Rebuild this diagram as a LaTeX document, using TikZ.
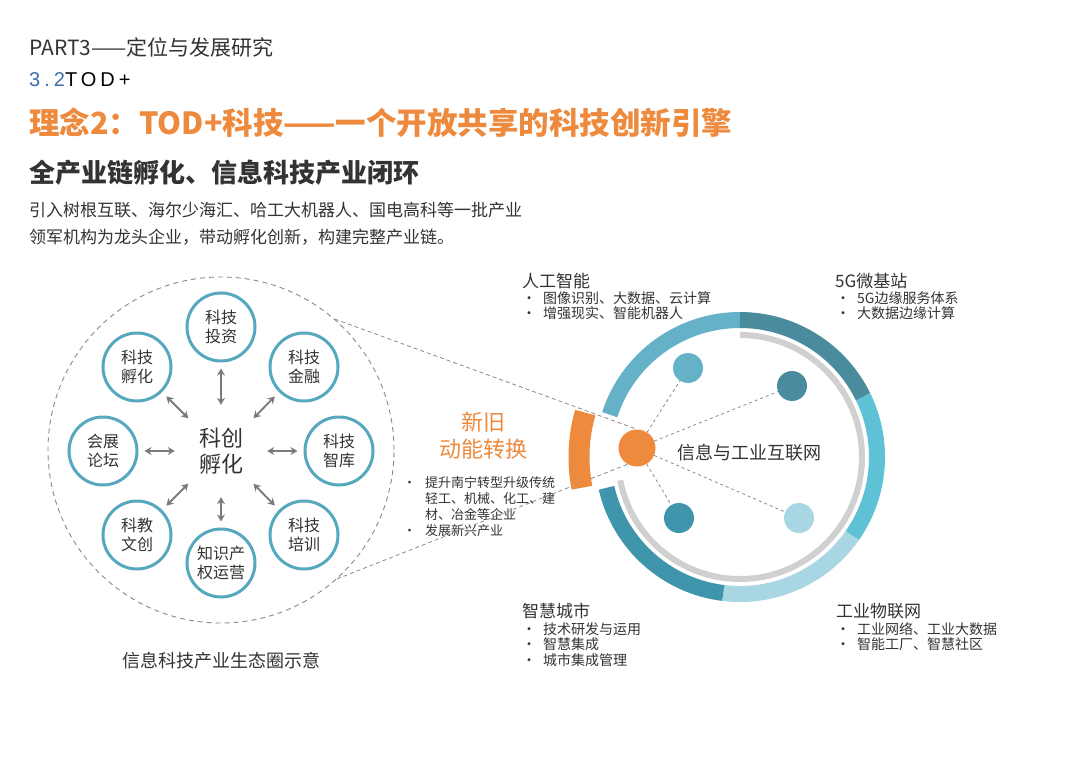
\documentclass[tikz,border=0pt]{standalone}
\usepackage{fontspec}
\setmainfont{Noto Sans CJK SC}
\newfontfamily\secfont[LetterSpace=20]{Liberation Sans}
\usetikzlibrary{arrows.meta,positioning}

\definecolor{darktext}{HTML}{333333}
\definecolor{secblue}{HTML}{3D6FA8}
\definecolor{titleorange}{HTML}{EE8A3D}
\definecolor{ringteal}{HTML}{56A8BE}
\definecolor{arrowgray}{HTML}{7A7A7A}
\definecolor{dashgray}{HTML}{8A8A8A}
\definecolor{segA}{HTML}{65B2C8}
\definecolor{segB}{HTML}{4A8C9E}
\definecolor{segC}{HTML}{5EC1D6}
\definecolor{segD}{HTML}{A8D6E2}
\definecolor{segE}{HTML}{3F95AC}
\definecolor{ringgray}{HTML}{D0D0D0}

\newcommand{\bitem}[2][21pt]{\makebox[#1][l]{•}#2}
\newcommand{\bcont}[2][21pt]{\hspace*{#1}#2}

\begin{document}
\begin{tikzpicture}[x=1pt, y=1pt,
  satellite/.style={circle, draw=ringteal, line width=3pt, fill=white, minimum size=68pt, inner sep=0pt, align=center, text=darktext, font=\fontsize{16}{19}\selectfont},
  hub/.style={circle, minimum size=84pt, inner sep=0pt, align=center, text=darktext, font=\fontsize{22}{26}\selectfont},
  biarrow/.style={{Stealth[length=7pt,width=8pt]}-{Stealth[length=7pt,width=8pt]}, draw=arrowgray, line width=1.8pt, shorten <=4pt, shorten >=6pt},
  spoke/.style={draw=dashgray, dash pattern=on 4pt off 3pt, line width=0.8pt},
  dot/.style={circle, minimum size=30pt, inner sep=0pt},
  seg/.style={line width=16pt},
  heading/.style={anchor=west, inner sep=0pt, text=darktext, font=\fontsize{17}{20}\selectfont},
  blist/.style={anchor=west, inner sep=0pt, align=left, text=darktext, font=\fontsize{14}{15.5}\selectfont}]
\fill[white] (0,0) rectangle (1080,-768);
\useasboundingbox (0,0) rectangle (1080,-768);

% header
\node[anchor=west, inner sep=0pt, text=darktext, font=\fontsize{21}{24}\selectfont] (part) at (29,-47) {PART3——定位与发展研究};
\node[anchor=west, inner sep=0pt, font=\fontsize{20}{24}\selectfont] (sec) at (29,-80) {\secfont\textcolor{secblue}{3.2}TOD+};
\node[anchor=west, inner sep=0pt, text=titleorange, font=\bfseries\fontsize{30.5}{34}\selectfont] (title) at (29,-123) {理念2：TOD+科技——一个开放共享的科技创新引擎};
\node[anchor=west, inner sep=0pt, text=darktext, font=\bfseries\fontsize{26}{30}\selectfont] (sub) at (29,-173) {全产业链孵化、信息科技产业闭环};
\node[anchor=west, inner sep=0pt, align=left, text=darktext, font=\fontsize{17}{27}\selectfont] (intro) at (29,-223.5) {引入树根互联、海尔少海汇、哈工大机器人、国电高科等一批产业\\领军机构为龙头企业，带动孵化创新，构建完整产业链。};

% ecosystem circle
\node[circle, draw=dashgray, dash pattern=on 5pt off 4pt, line width=0.9pt, minimum size=346pt] (eco) at (221,-450) {};
\node[hub] (hub) at (221,-451) {科创\\孵化};
\node[satellite] (tz) at (221,-327) {科技\\投资};
\node[satellite] (fh) at (137,-367) {科技\\孵化};
\node[satellite] (jr) at (304,-367) {科技\\金融};
\node[satellite] (lt) at (103,-451) {会展\\论坛};
\node[satellite] (zk) at (339,-451) {科技\\智库};
\node[satellite] (wc) at (137,-535) {科教\\文创};
\node[satellite] (zs) at (221,-563) {知识产\\权运营};
\node[satellite] (px) at (304,-535) {科技\\培训};
\foreach \s in {tz,fh,jr,lt,zk,wc,zs,px}
  \draw[biarrow] (hub) -- (\s);
\node[text=darktext, font=\fontsize{18}{20}\selectfont] (cap) at (221,-661) {信息科技产业生态圈示意};

% conversion
\node[align=center, inner sep=0pt, text=titleorange, font=\fontsize{22}{27}\selectfont] (conv) at (483,-436) {新旧\\动能转换};
\node[blist, font=\fontsize{13}{16}\selectfont] (convlist) at (403,-507) {\bitem[22pt]{提升南宁转型升级传统}\\\bcont[22pt]{轻工、机械、化工、建}\\\bcont[22pt]{材、冶金等企业}\\\bitem[22pt]{发展新兴产业}};

% network ring
\coordinate (rc) at (740,-457);
\node[dot, fill=titleorange, minimum size=37pt] (core) at (637,-448) {};
\node[dot, fill=segA] (d1) at (688,-368) {};
\node[dot, fill=segB] (d2) at (792,-386) {};
\node[dot, fill=segE] (d3) at (679,-518) {};
\node[dot, fill=segD] (d4) at (799,-518) {};
\foreach \d in {d1,d2,d3,d4}
  \draw[spoke, dash pattern=on 3pt off 3pt] (core) -- (\d);
\draw[spoke] (eco.49) -- (core.north);
\draw[spoke] (eco.-48) -- (core.240);
\draw[seg, segA] ([shift={(90:137pt)}]rc) arc[start angle=90, end angle=162, radius=137pt];
\draw[seg, segB] ([shift={(90:137pt)}]rc) arc[start angle=90, end angle=26, radius=137pt];
\draw[seg, segC] ([shift={(26:137pt)}]rc) arc[start angle=26, end angle=-35, radius=137pt];
\draw[seg, segD] ([shift={(-35:137pt)}]rc) arc[start angle=-35, end angle=-97, radius=137pt];
\draw[seg, segE] ([shift={(-97:137pt)}]rc) arc[start angle=-97, end angle=-167, radius=137pt];
\draw[line width=6pt, ringgray] ([shift={(90:122pt)}]rc) arc[start angle=90, end angle=-169, radius=122pt];
\draw[line width=21pt, titleorange] ([shift={(164:161pt)}]rc) arc[start angle=164, end angle=191, radius=161pt];
\node[text=darktext, font=\fontsize{18}{20}\selectfont] (net) at (749,-453) {信息与工业互联网};

% labels
\node[heading] (ai) at (522,-281) {人工智能};
\node[blist] (ailist) at (522,-305.5) {\bitem{图像识别、大数据、云计算}\\\bitem{增强现实、智能机器人}};
\node[heading] (g5) at (835,-281) {5G微基站};
\node[blist] (g5list) at (836,-305.5) {\bitem{5G边缘服务体系}\\\bitem{大数据边缘计算}};
\node[heading] (city) at (522,-611) {智慧城市};
\node[blist] (citylist) at (522,-644.5) {\bitem{技术研发与运用}\\\bitem{智慧集成}\\\bitem{城市集成管理}};
\node[heading] (iot) at (836,-611) {工业物联网};
\node[blist] (iotlist) at (836,-636.5) {\bitem{工业网络、工业大数据}\\\bitem{智能工厂、智慧社区}};
\end{tikzpicture}
\end{document}
